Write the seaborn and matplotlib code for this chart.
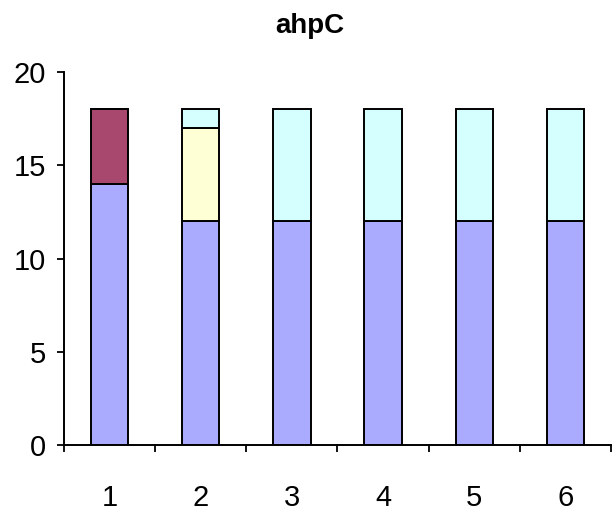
import numpy as np
import matplotlib
matplotlib.use("Agg")
import matplotlib.pyplot as plt
import seaborn as sns

categories = ["1", "2", "3", "4", "5", "6"]
base = [14, 12, 12, 12, 12, 12]
plum = [4, 0, 0, 0, 0, 0]
ivory = [0, 5, 0, 0, 0, 0]
cyan = [0, 1, 6, 6, 6, 6]

series = [base, plum, ivory, cyan]
colors = ["#AAAAFF", "#A8486F", "#FFFFD5", "#D5FFFF"]

sns.set_style("white")
plt.rcParams['font.family'] = ['Liberation Sans', 'DejaVu Sans']
plt.rcParams['text.color'] = 'black'
plt.rcParams['xtick.color'] = 'black'
plt.rcParams['ytick.color'] = 'black'

fig = plt.figure(figsize=(6.13, 5.14), dpi=100)
ax = fig.add_axes([0.104, 0.134, 0.893, 0.726])

bottom = np.zeros(len(categories))
for vals, col in zip(series, colors):
    vals = np.array(vals, dtype=float)
    sns.barplot(x=categories, y=vals, bottom=bottom, color=col, saturation=1,
                width=0.41, edgecolor="black", linewidth=1.4, ax=ax)
    bottom = bottom + vals

ax.set_xlim(-0.5, 5.5)
ax.set_ylim(0, 20)
ax.set_yticks([0, 5, 10, 15, 20])

# ticks between categories, labels centred under bars
ax.set_xticks(np.arange(-0.5, 6, 1), minor=True)
ax.tick_params(axis="x", which="minor", length=5, width=1.3, direction="out", bottom=True)
ax.tick_params(axis="x", which="major", length=0, pad=28, labelsize=21, labelcolor="black")
ax.tick_params(axis="y", length=5, width=1.3, direction="out", left=True, pad=8,
               labelsize=21, labelcolor="black")

for s in ["top", "right"]:
    ax.spines[s].set_visible(False)
for s in ["left", "bottom"]:
    ax.spines[s].set_color("black")
    ax.spines[s].set_linewidth(1.4)

ax.set_xlabel("")
ax.set_ylabel("")
fig.suptitle("ahpC", x=0.505, y=0.975, fontsize=20, fontweight="bold", color="black")

fig.savefig("out.png", dpi=100)
